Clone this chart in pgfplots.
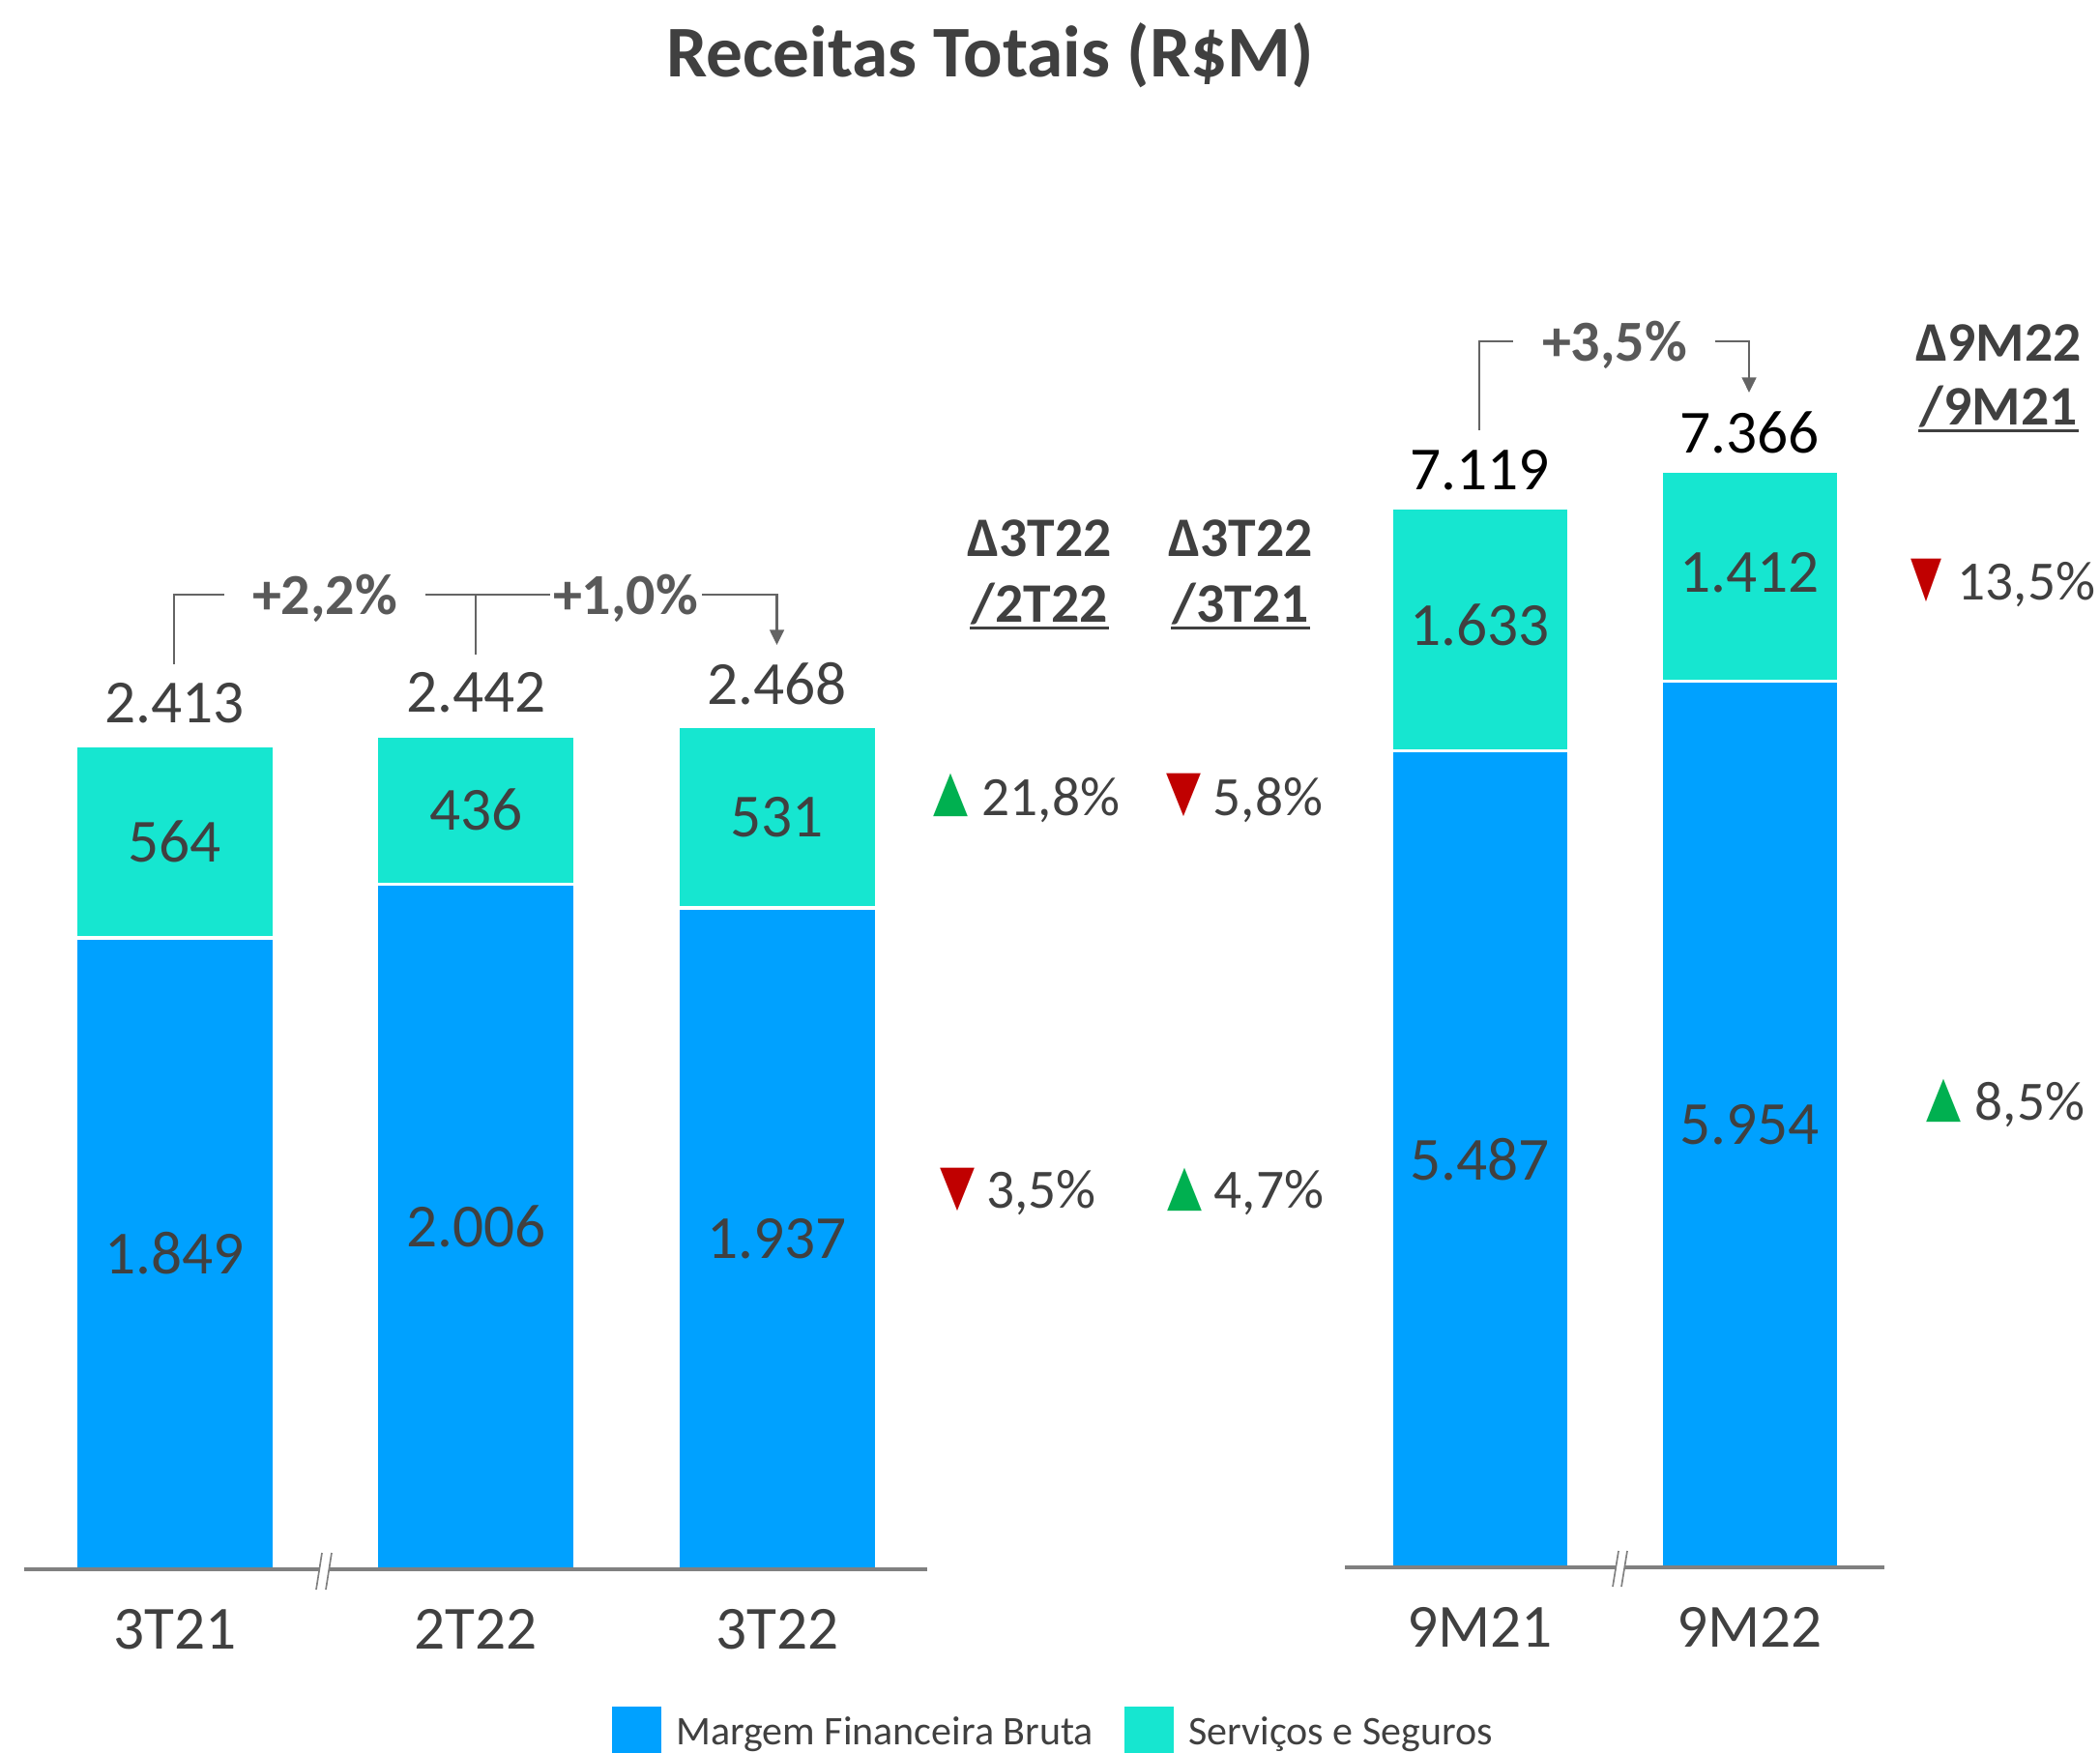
\documentclass[border=0pt]{standalone}
\usepackage{pgfplots}
\pgfplotsset{compat=1.18}
\usepackage{pgfplotstable}
\usetikzlibrary{arrows.meta}
\usepackage{fontspec}
\setmainfont{Carlito}
\newfontfamily\dejavu{DejaVu Sans}
\definecolor{cblue}{RGB}{0,161,255}
\definecolor{ccyan}{RGB}{22,230,208}
\definecolor{ctext}{RGB}{64,64,64}
\definecolor{cpct}{RGB}{89,89,89}
\definecolor{cline}{RGB}{100,100,100}
\definecolor{caxis}{RGB}{128,128,128}
\definecolor{cgreen}{RGB}{0,176,80}
\definecolor{cred}{RGB}{192,0,0}

\pgfplotstableread{
x mfb ss
0 1849 564
1 2006 436
2 1937 531
}\lefttable
\pgfplotstableread{
x mfb ss
0 5487 1633
1 5954 1412
}\righttable

\pgfplotsset{
  common/.style={
    scale only axis,
    anchor=south west,
    axis x line*=bottom,
    axis y line=none,
    x axis line style={draw=caxis, line width=1pt},
    ymin=0,
    enlargelimits=false,
    xtick=data,
    major tick length=0pt,
    xticklabel style={anchor=base, yshift=-24.8pt, font=\fontsize{19pt}{23pt}\selectfont, text=ctext},
    ybar stacked,
    axis on top,
    clip=false,
    /pgf/number format/assume math mode=true,
  },
}
\tikzset{valnum/.style={font=\fontsize{19pt}{23pt}\selectfont, text=ctext, inner sep=0pt, anchor=center}}

\begin{document}
\begin{tikzpicture}
\useasboundingbox (0,0) rectangle (651.6pt,543.9pt);

% left axis
\begin{axis}[common, at={(7.5pt,57pt)}, width=280.35pt, height=317.8pt,
  xmin=-0.5, xmax=2.5, ymax=3000, bar width=61.7pt,
  xticklabels={3T21,2T22,3T22},
  legend columns=2,
  legend style={at={(0.6506,-0.1577)}, anchor=west, draw=none, fill=none,
    inner sep=0pt, outer sep=0pt,
    font=\fontsize{12.6pt}{15pt}\selectfont, text=ctext,
    nodes={inner sep=0pt, inner xsep=4.6pt, text depth=0pt},
    /tikz/every even column/.append style={column sep=5.1pt}},
  legend image code/.code={\fill[#1, draw=none] (0pt,-7.6pt) rectangle (15.3pt,7.6pt);},
]
\addplot[fill=cblue, draw=white, line width=1.1pt] table[x=x,y=mfb]{\lefttable};
\addplot[fill=ccyan, draw=white, line width=1.1pt] table[x=x,y=ss]{\lefttable};
\legend{Margem Financeira Bruta, Serviços e Seguros}
\coordinate (L0a) at (axis cs:0,924.5);
\coordinate (L0b) at (axis cs:0,2131);
\coordinate (L0t) at (axis cs:0,2538);
\coordinate (L1a) at (axis cs:1,1003);
\coordinate (L1b) at (axis cs:1,2224);
\coordinate (L1t) at (axis cs:1,2567);
\coordinate (L2a) at (axis cs:2,968.5);
\coordinate (L2b) at (axis cs:2,2202.5);
\coordinate (L2t) at (axis cs:2,2593);
\end{axis}
\node[valnum] at (L0a) {1.849};
\node[valnum] at (L0b) {564};
\node[valnum] at (L0t) {2.413};
\node[valnum] at (L1a) {2.006};
\node[valnum] at (L1b) {436};
\node[valnum] at (L1t) {2.442};
\node[valnum] at (L2a) {1.937};
\node[valnum] at (L2b) {531};
\node[valnum] at (L2t) {2.468};

% right axis
\begin{axis}[common, at={(417.3pt,57.6pt)}, width=167.4pt, height=369.4pt,
  xmin=-0.5, xmax=1.5, ymax=8000, bar width=55.1pt,
  xticklabels={9M21,9M22},
]
\addplot[fill=cblue, draw=white, line width=1.1pt] table[x=x,y=mfb]{\righttable};
\addplot[fill=ccyan, draw=white, line width=1.1pt] table[x=x,y=ss]{\righttable};
\coordinate (R0a) at (axis cs:0,2743.5);
\coordinate (R0b) at (axis cs:0,6330);
\coordinate (R0t) at (axis cs:0,7371);
\coordinate (R1a) at (axis cs:1,2977);
\coordinate (R1b) at (axis cs:1,6687);
\coordinate (R1t) at (axis cs:1,7627);
\end{axis}
\node[valnum] at (R0a) {5.487};
\node[valnum] at (R0b) {1.633};
\node[valnum, text=black] at (R0t) {7.119};
\node[valnum] at (R1a) {5.954};
\node[valnum] at (R1b) {1.412};
\node[valnum, text=black] at (R1t) {7.366};

\begin{scope}[x=0.3pt, y=-0.3pt, yshift=543.9pt]
% title
\node[anchor=base, font=\bfseries\fontsize{22.6pt}{27pt}\selectfont, text=ctext, inner sep=0pt] at (1024,80) {Receitas Totais (R\$M)};

% brackets
\begin{scope}[draw=cline, line width=0.8pt]
\draw (180,687) -- (180,615) -- (232,615);
\draw (440,615) -- (569,615);
\draw (492,615) -- (492,677);
\draw[-{Triangle[width=4.4pt,length=4.7pt]}] (726,615) -- (803.5,615) -- (803.5,667);
\draw (1530,445) -- (1530,353) -- (1565,353);
\draw[-{Triangle[width=4.4pt,length=4.7pt]}] (1774,353) -- (1809,353) -- (1809,406);
\end{scope}
\begin{scope}[every node/.style={anchor=base, font=\bfseries\fontsize{18pt}{22pt}\selectfont, text=cpct, inner sep=0pt}]
\node at (336,636) {+2,2\%};
\node at (647,636) {+1,0\%};
\node at (1670,374) {+3,5\%};
\end{scope}

% delta headers
\begin{scope}[every node/.style={anchor=base, font=\bfseries\fontsize{17.3pt}{21pt}\selectfont, text=ctext, inner sep=0pt}]
\node at (1075,576) {Δ3T22};
\node at (1075,644) {/2T22};
\node at (1283,576) {Δ3T22};
\node at (1283,644) {/3T21};
\node at (2067,374) {Δ9M22};
\node at (2067,440) {/9M21};
\end{scope}
\begin{scope}[draw=ctext, line width=0.9pt]
\draw (1003,650) -- (1147,650);
\draw (1211,650) -- (1355,650);
\draw (1984,446) -- (2150,446);
\end{scope}

% delta values
\begin{scope}[every node/.style={anchor=base west, font=\fontsize{17.2pt}{21pt}\selectfont, text=ctext, inner sep=0pt}]
\node at (1015,844) {21,8\%};
\node at (1254,844) {5,8\%};
\node at (1019.5,1249) {3,5\%};
\node at (1255,1249) {4,7\%};
\node at (2024,620.6) {13,5\%};
\node at (2042,1158) {8,5\%};
\end{scope}
\begin{scope}[every node/.style={anchor=center, inner sep=0pt}]
\node[text=cgreen] at (983,822) {\resizebox{10.8pt}{11.2pt}{\dejavu ▲}};
\node[text=cred] at (1224.5,822) {\resizebox{10.8pt}{11.2pt}{\dejavu ▼}};
\node[text=cred] at (990,1230) {\resizebox{10.8pt}{11.2pt}{\dejavu ▼}};
\node[text=cgreen] at (1225,1230) {\resizebox{10.8pt}{11.2pt}{\dejavu ▲}};
\node[text=cred] at (1992.6,600.4) {\resizebox{9.6pt}{11.2pt}{\dejavu ▼}};
\node[text=cgreen] at (2010,1138) {\resizebox{10.8pt}{11.2pt}{\dejavu ▲}};
\end{scope}

% axis breaks
\fill[white] (333,1606) -- (343,1606) -- (337,1644) -- (327,1644) -- cycle;
\draw[caxis, line width=0.5pt] (333,1606) -- (327,1644);
\draw[caxis, line width=0.5pt] (343,1606) -- (337,1644);
\fill[white] (1674,1604) -- (1683,1604) -- (1677,1641) -- (1668,1641) -- cycle;
\draw[caxis, line width=0.5pt] (1674,1604) -- (1668,1641);
\draw[caxis, line width=0.5pt] (1683,1604) -- (1677,1641);
\end{scope}
\end{tikzpicture}
\end{document}
